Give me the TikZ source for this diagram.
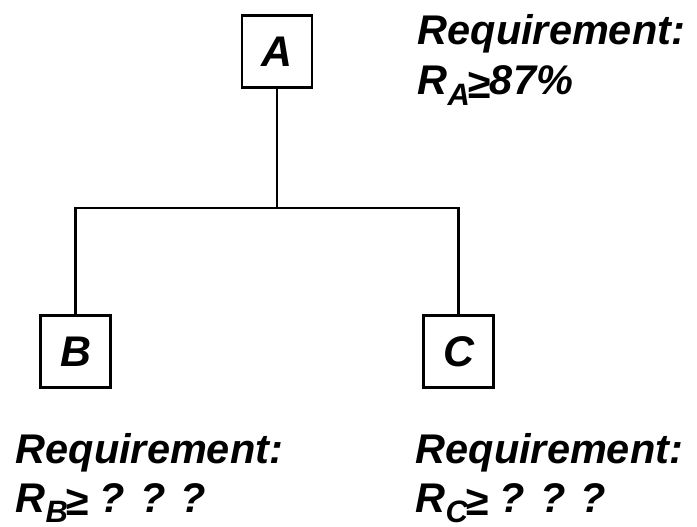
\documentclass[tikz,border=0pt]{standalone}
\usepackage{fontspec}
\setmainfont{Liberation Sans}
\usetikzlibrary{positioning}
\definecolor{TreeLine}{HTML}{000000}
\newcommand{\reqsub}[1]{\raisebox{-3pt}{\fontsize{8.8}{8.8}\selectfont #1}}

\begin{document}
\begin{tikzpicture}[x=1cm,y=1cm,
  blockbox/.style={draw=TreeLine,line width=0.6pt,minimum width=0.70cm,minimum height=0.72cm,inner sep=0pt,
    font=\fontsize{12.2}{14}\selectfont\bfseries\itshape},
  reqtext/.style={inner sep=0pt,anchor=base west,font=\fontsize{11.8}{14}\selectfont\bfseries\itshape}]
\path[use as bounding box] (0,0) rectangle (6.97,5.26);
% blocks
\node[blockbox] (A) at (2.77,4.745) {A};
\node[blockbox] (B) at (0.755,1.745) {B};
\node[blockbox] (C) at (4.585,1.745) {C};
\coordinate (split) at (2.77,3.18);
\draw[TreeLine,line width=0.6pt] (A.south) -- (split);
\draw[TreeLine,line width=0.6pt] (B.north) |- (split) -| (C.north);
% requirements
\node[reqtext] (reqA) at (4.17,4.81) {Requirement:};
\node[reqtext] (reqAval) at ([yshift=-0.50cm]reqA.base west) {R\reqsub{A}\kern-0.8pt\raisebox{-1pt}{≥}87\%};
\node[reqtext] (reqB) at (0.15,0.63) {Requirement:};
\node[reqtext] (reqBval) at ([yshift=-0.49cm]reqB.base west) {R\reqsub{B}\kern-0.8pt\raisebox{-1pt}{≥} ? ? ?};
\node[reqtext] (reqC) at (4.15,0.63) {Requirement:};
\node[reqtext] (reqCval) at ([yshift=-0.49cm]reqC.base west) {R\reqsub{C}\kern-0.8pt\raisebox{-1pt}{≥} ? ? ?};
\end{tikzpicture}
\end{document}
